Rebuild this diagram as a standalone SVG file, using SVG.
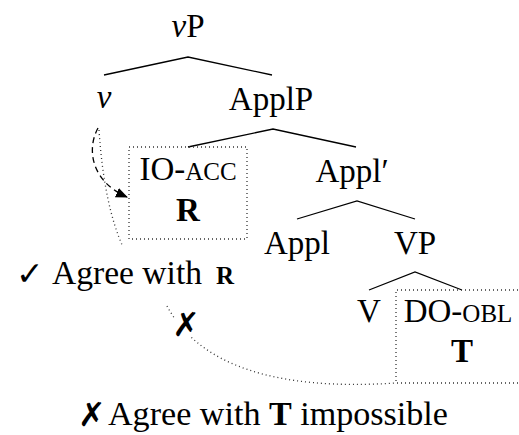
<svg xmlns="http://www.w3.org/2000/svg" width="519" height="435" viewBox="0 0 519 435">
<defs>
<style>
text{font-family:"Liberation Serif","DejaVu Serif",serif;font-size:33px;fill:#000;text-anchor:middle}
.sym{font-family:"DejaVu Sans",sans-serif;font-weight:bold}
.sc{font-size:25px}
.b{font-weight:bold}
.st{text-anchor:start}
.edge{stroke:#000;stroke-width:1.3;fill:none}
.dot{stroke:#333;stroke-width:1.3;fill:none;stroke-dasharray:1 3}
.dash{stroke:#000;stroke-width:1.3;fill:none;stroke-dasharray:6 4}
</style>
<marker id="ah" viewBox="0 0 12 10" refX="11" refY="5" markerWidth="12" markerHeight="10" markerUnits="userSpaceOnUse" orient="auto">
<path d="M0,0 L12,5 L0,10 z" fill="#000"/>
</marker>
</defs>
<rect width="519" height="435" fill="#fff"/>
<g id="connectors">
<path class="edge" d="M104,75 L188,57 L272,75"/>
<path class="edge" d="M188,147 L273,129 L356,147"/>
<path class="edge" d="M297,219 L357,201 L415,219"/>
<path class="edge" d="M369,290 L415,272 L462,290"/>
<path class="dash" d="M98,128 C86,150 92,182 127,197" marker-end="url(#ah)"/>
<path class="dot" d="M99,130 Q104,205 123,247"/>
<path class="dot" d="M167,306 Q215,395 396,383"/>
</g>
<g id="vP"><text x="188" y="37"><tspan font-style="italic">v</tspan>P</text></g>
<g id="v"><text x="104" y="108" font-style="italic">v</text></g>
<g id="ApplP"><text x="271" y="110">ApplP</text></g>
<g id="IO">
<rect class="dot" x="129" y="147" width="118" height="92"/>
<text x="188" y="180">IO-<tspan class="sc">ACC</tspan></text>
<text x="188" y="221" class="b">R</text>
</g>
<g id="Applbar"><text x="352" y="182">Appl′</text></g>
<g id="Appl"><text x="297" y="254">Appl</text></g>
<g id="VP"><text x="415" y="254">VP</text></g>
<g id="V"><text x="369" y="322">V</text></g>
<g id="DO">
<path class="dot" d="M530,290 L396,290 L396,383 L530,383"/>
<text x="458" y="322">DO-<tspan class="sc">OBL</tspan></text>
<text x="462" y="362" class="b">T</text>
</g>
<g id="agreeR">
<text x="16" y="285" class="sym st" font-size="31">✓</text>
<text x="52" y="284" class="st" textLength="150" lengthAdjust="spacingAndGlyphs">Agree with</text>
<text x="216" y="284" class="st b sc">R</text>
</g>
<g id="cross">
<rect x="175" y="310" width="23" height="27" fill="#fff"/>
<text x="186" y="336" class="sym" font-size="32">✗</text>
</g>
<g id="caption">
<text x="78" y="426" class="sym st" font-size="30">✗</text>
<text x="108" y="425" class="st" textLength="340" lengthAdjust="spacingAndGlyphs">Agree with <tspan class="b">T</tspan> impossible</text>
</g>
</svg>
